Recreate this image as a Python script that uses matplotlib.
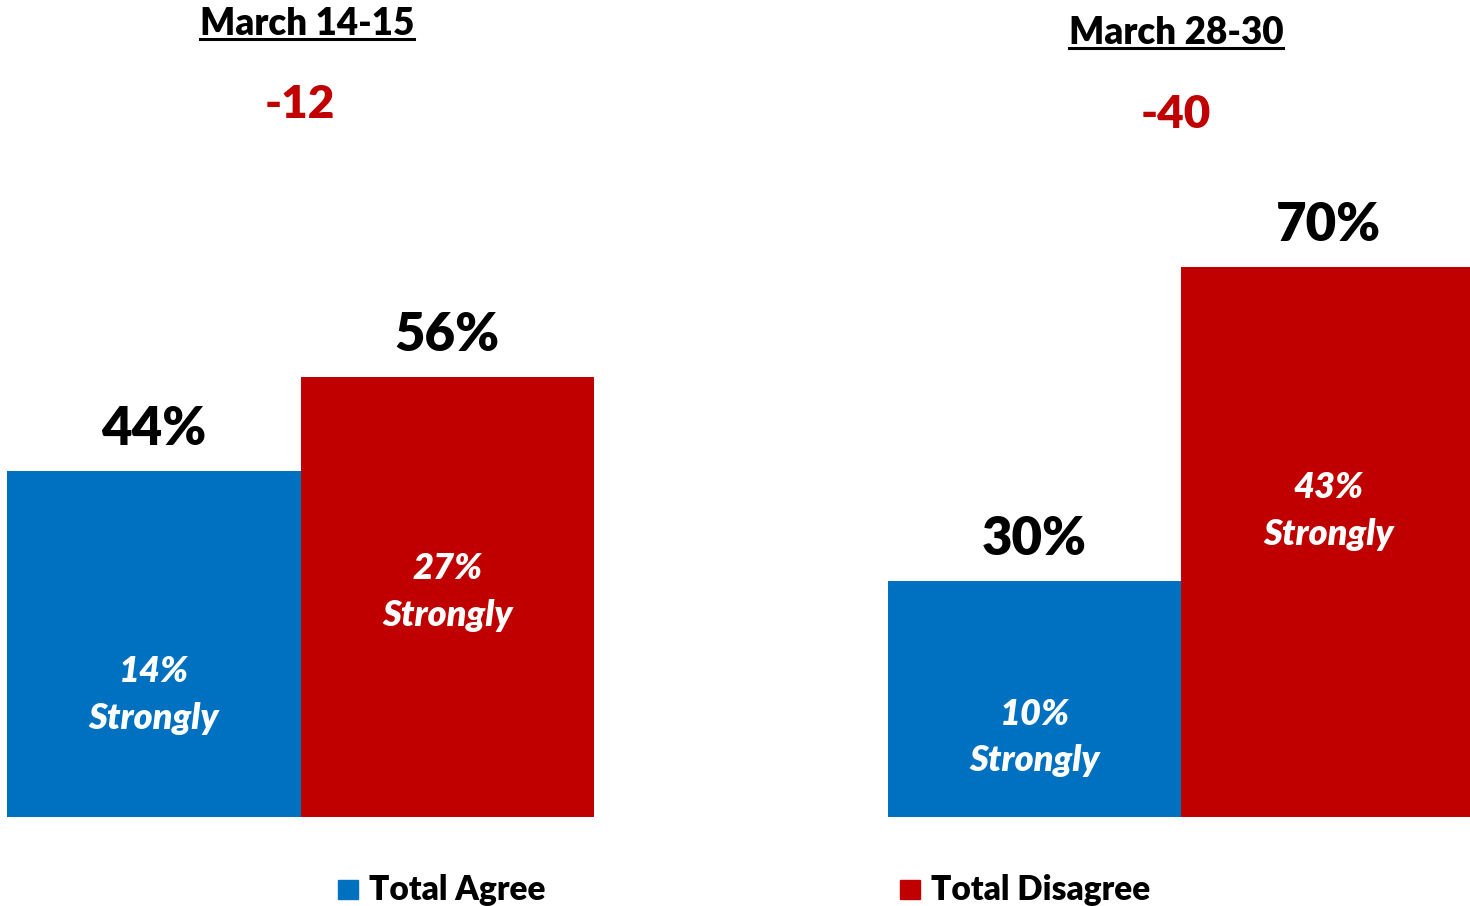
import matplotlib
matplotlib.use("Agg")
import matplotlib.pyplot as plt
from matplotlib.patches import Rectangle

plt.rcParams['font.family'] = ['Lato', 'DejaVu Sans']

# Data
periods = ["March 14-15", "March 28-30"]
series = ["Total Agree", "Total Disagree"]
agree = [44, 30]
disagree = [56, 70]
strong_agree = [14, 10]
strong_disagree = [27, 43]
net = [-12, -40]

BLUE = "#0070C0"
RED = "#C00000"
WEIGHT = "heavy"

W, H = 1470, 906
fig = plt.figure(figsize=(W / 100, H / 100), dpi=100)

def fx(px):
    return px / W

def fy(py):
    return 1 - py / H

# axes: x from -0.5..4.5 maps to px 7..1475, y 0..100 maps to px 817..31
ax = fig.add_axes([fx(7), fy(817), (1475 - 7) / W, (817 - 31) / H])
ax.set_xlim(-0.5, 4.5)
ax.set_ylim(0, 100)
ax.axis("off")

group_pos = [0, 3]
for g in range(2):
    xa = group_pos[g]
    xd = group_pos[g] + 1
    ax.bar(xa, agree[g], width=1.0, color=BLUE, edgecolor="none")
    ax.bar(xd, disagree[g], width=1.0, color=RED, edgecolor="none")
    ax.text(xa, agree[g] + 2.2, f"{agree[g]}%", ha="center", va="bottom",
            fontsize=38, fontweight=WEIGHT, color="black")
    ax.text(xd, disagree[g] + 2.2, f"{disagree[g]}%", ha="center", va="bottom",
            fontsize=38, fontweight=WEIGHT, color="black")

# inner "Strongly" labels (layout positions in data units)
inner_y_agree = [15.5, 10.1]
inner_y_dis = [28.6, 38.9]
for g in range(2):
    ax.text(group_pos[g], inner_y_agree[g], f"{strong_agree[g]}%\nStrongly",
            ha="center", va="center", fontsize=26, fontweight=WEIGHT,
            style="italic", color="white", linespacing=1.5)
    ax.text(group_pos[g] + 1, inner_y_dis[g], f"{strong_disagree[g]}%\nStrongly",
            ha="center", va="center", fontsize=26, fontweight=WEIGHT,
            style="italic", color="white", linespacing=1.5)

# titles and net values
title_xy = [(307, 24), (1176, 33)]
net_xy = [(300, 104), (1176, 114)]
titles = []
for g in range(2):
    t = fig.text(fx(title_xy[g][0]), fy(title_xy[g][1]), periods[g], ha="center",
                 va="center", fontsize=26.5, fontweight=WEIGHT, color="black")
    titles.append(t)
    fig.text(fx(net_xy[g][0]), fy(net_xy[g][1]), f"{net[g]}", ha="center",
             va="center", fontsize=33, fontweight=WEIGHT, color=RED)

# underline titles
fig.canvas.draw()
renderer = fig.canvas.get_renderer()
for t in titles:
    bb = t.get_window_extent(renderer)
    yline = bb.y0 + 2
    fig.add_artist(plt.Line2D([bb.x0 / W, bb.x1 / W], [yline / H, yline / H],
                              color="black", linewidth=2.2))

# legend
legend_items = [(338, BLUE, series[0]), (900, RED, series[1])]
for px, col, lab in legend_items:
    fig.add_artist(Rectangle((fx(px), fy(899)), 20 / W, 19 / H, color=col,
                             transform=fig.transFigure))
    fig.text(fx(px + 31), fy(890), lab, ha="left", va="center", fontsize=24,
             fontweight=WEIGHT, color="black")

fig.savefig("out.png", dpi=100)
